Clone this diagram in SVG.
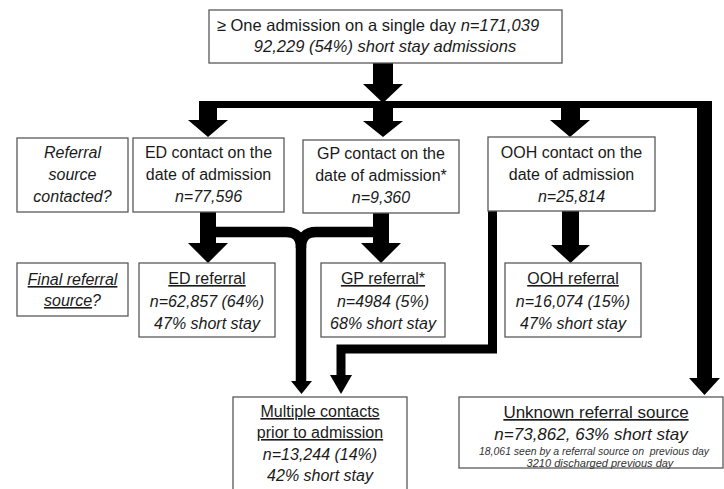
<svg xmlns="http://www.w3.org/2000/svg" width="724" height="489" viewBox="0 0 724 489">
<style>
.box{fill:#fff;stroke:#595959;stroke-width:1.3}
text{font-family:"Liberation Sans",Arial,sans-serif;font-size:16px;fill:#1a1a1a;text-anchor:middle}
.i{font-style:italic}
.u{text-decoration:underline}
.s{font-size:11px;fill:#333}
.big{font-size:17px}
.t{font-size:16.5px}
.ar{fill:#000}
.ln{fill:none;stroke:#000}
</style>
<rect width="724" height="489" fill="#fff"/>
<g id="connectors">
<polygon class="ar" points="373,63 393,63 393,84 403,84 383,103 363,84 373,84"/>
<path class="ar" d="M199,101 H712 V378 H720 L704.5,395 L689,378 H697 V108 H580 V120 H590 L570,137 L550,120 H561 V108 H393 V121 H403 L383,137 L363,121 H373 V108 H217 V120 H228 L208,137 L188,120 H199 Z"/>
<polygon class="ar" points="200,212 216,212 216,243 228,243 208,263 188,243 200,243"/>
<polygon class="ar" points="373,213 389,213 389,243 401,243 381,263 361,243 373,243"/>
<polygon class="ar" points="562,211 579,211 579,245 590,245 570.5,263 551,245 562,245"/>
<path class="ln" stroke-width="10.5" d="M216,232 H286 Q301,232 301,248 V383"/>
<path class="ln" stroke-width="10.5" d="M374,232 H316 Q301,232 301,248"/>
<polygon class="ar" points="291,381 312,381 301.5,394"/>
<path class="ln" stroke-width="9" stroke-linejoin="miter" d="M492.5,211 V349 H341 V377"/>
<polygon class="ar" points="330,375 352,375 341,394"/>
</g>
<g id="top">
<rect class="box" x="209" y="10" width="353" height="53"/>
<text x="378" y="31" class="t">≥ One admission on a single day <tspan class="i">n=171,039</tspan></text>
<text x="385" y="52" class="t i">92,229 (54%) short stay admissions</text>
</g>
<g id="q1">
<rect class="box" x="17" y="138" width="111" height="74"/>
<text x="72.5" y="158" class="i">Referral</text>
<text x="72.5" y="180" class="i">source</text>
<text x="72.5" y="202" class="i">contacted?</text>
</g>
<g id="ed-contact">
<rect class="box" x="133" y="138" width="151" height="74"/>
<text x="208.5" y="158">ED contact on the</text>
<text x="208.5" y="180">date of admission</text>
<text x="208.5" y="202" class="i">n=77,596</text>
</g>
<g id="gp-contact">
<rect class="box" x="303" y="140" width="156" height="73"/>
<text x="381" y="159">GP contact on the</text>
<text x="381" y="181">date of admission*</text>
<text x="381" y="203" class="i">n=9,360</text>
</g>
<g id="ooh-contact">
<rect class="box" x="488" y="137" width="167" height="74"/>
<text x="571.5" y="158">OOH contact on the</text>
<text x="571.5" y="180">date of admission</text>
<text x="571.5" y="202" class="i">n=25,814</text>
</g>
<g id="q2">
<rect class="box" x="17" y="263" width="111" height="53"/>
<text x="72.5" y="285" class="i u">Final referral</text>
<text x="72.5" y="306" class="i"><tspan class="u">source</tspan>?</text>
</g>
<g id="ed-ref">
<rect class="box" x="139" y="263" width="136" height="74"/>
<text x="207" y="284" class="u">ED referral</text>
<text x="207" y="307" class="i">n=62,857 (64%)</text>
<text x="207" y="329" class="i">47% short stay</text>
</g>
<g id="gp-ref">
<rect class="box" x="321" y="263" width="124" height="74"/>
<text x="383" y="284" class="u">GP referral*</text>
<text x="383" y="307" class="i">n=4984 (5%)</text>
<text x="383" y="329" class="i">68% short stay</text>
</g>
<g id="ooh-ref">
<rect class="box" x="505" y="263" width="136" height="74"/>
<text x="573" y="284" class="u">OOH referral</text>
<text x="573" y="307" class="i">n=16,074 (15%)</text>
<text x="573" y="329" class="i">47% short stay</text>
</g>
<g id="multiple">
<rect class="box" x="233" y="397" width="174" height="96"/>
<text x="320" y="417" class="u">Multiple contacts</text>
<text x="320" y="438" class="u">prior to admission</text>
<text x="320" y="460" class="i">n=13,244 (14%)</text>
<text x="320" y="481" class="i">42% short stay</text>
</g>
<g id="unknown">
<rect class="box" x="459" y="397" width="264" height="71"/>
<text x="596" y="418" class="big u">Unknown referral source</text>
<text x="591" y="440" class="big i">n=73,862, 63% short stay</text>
<text x="594" y="455" class="s i" xml:space="preserve" textLength="230" lengthAdjust="spacingAndGlyphs">18,061 seen by a referral source on  previous day</text>
<text x="600" y="467" class="s i">3210 discharged previous day</text>
</g>
</svg>
